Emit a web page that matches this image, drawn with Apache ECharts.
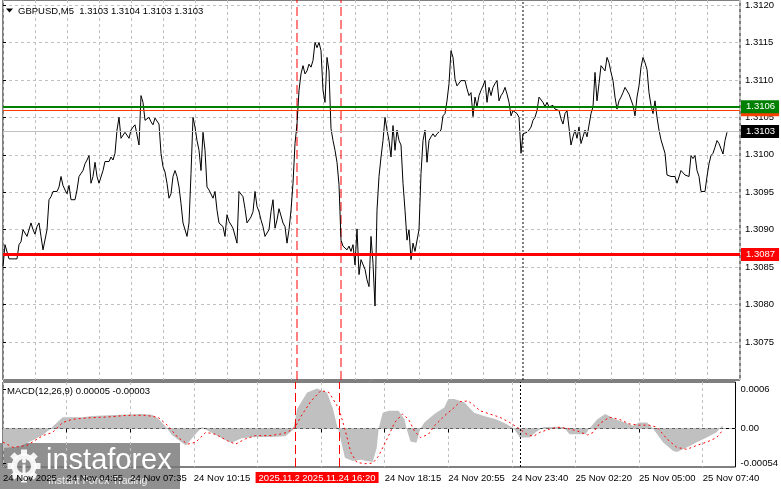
<!DOCTYPE html>
<html><head><meta charset="utf-8">
<script src="https://cdn.jsdelivr.net/npm/echarts@6/dist/echarts.min.js"></script>
<style>html,body{margin:0;padding:0;background:#fff;overflow:hidden}#c{width:781px;height:489px}</style>
</head><body><div id="c"></div>
<script>
// ---- data (M5 bars, index 0 = 24 Nov 02:15) ----
const closePrices = [
1.30851,1.30880,1.30880,1.30861,1.30861,1.30861,1.30861,1.30861,1.30880,1.30884,
1.30900,1.30901,1.30891,1.30891,1.30909,1.30900,1.30894,1.30904,1.30909,1.30891,
1.30873,1.30871,1.30900,1.30940,1.30944,1.30951,1.30951,1.30951,1.30957,1.30971,
1.30959,1.30953,1.30948,1.30959,1.30940,1.30940,1.30940,1.30953,1.30971,1.30973,
1.30979,1.30988,1.30993,1.30999,1.30962,1.30971,1.30990,1.30971,1.30962,1.30964,
1.30979,1.30991,1.30991,1.30991,1.30997,1.30993,1.31002,1.31033,1.31050,1.31022,
1.31024,1.31030,1.31028,1.31022,1.31033,1.31037,1.31040,1.31040,1.31013,1.31079,
1.31070,1.31046,1.31048,1.31050,1.31044,1.31040,1.31049,1.31049,1.31041,1.31002,
1.30984,1.30977,1.30962,1.30942,1.30948,1.30971,1.30979,1.30971,1.30957,1.30935,
1.30909,1.30900,1.30891,1.30909,1.30975,1.31050,1.31037,1.31019,1.31006,1.30979,
1.31030,1.31006,1.30957,1.30953,1.30953,1.30942,1.30951,1.30926,1.30909,1.30909,
1.30904,1.30891,1.30920,1.30911,1.30909,1.30902,1.30900,1.30882,1.30951,1.30951,
1.30944,1.30928,1.30909,1.30909,1.30917,1.30924,1.30951,1.30931,1.30924,1.30913,
1.30904,1.30891,1.30891,1.30900,1.30924,1.30940,1.30902,1.30913,1.30928,1.30928,
1.30909,1.30904,1.30882,1.30900,1.30926,1.30962,1.31015,1.31041,1.31086,1.31108,
1.31119,1.31108,1.31112,1.31121,1.31117,1.31126,1.31150,1.31143,1.31150,1.31139,
1.31086,1.31070,1.31130,1.31112,1.31035,1.31019,1.31006,1.30990,1.30960,1.30886,
1.30878,1.30880,1.30873,1.30878,1.30871,1.30880,1.30853,1.30901,1.30840,1.30860,
1.30860,1.30847,1.30833,1.30824,1.30891,1.30855,1.30798,1.30926,1.30971,1.30997,
1.31019,1.31050,1.31033,1.31019,1.30997,1.31039,1.31006,1.31033,1.31019,1.31013,
1.30962,1.30926,1.30886,1.30900,1.30860,1.30882,1.30871,1.30871,1.30900,1.30975,
1.31019,1.31033,1.30990,1.31019,1.31024,1.31028,1.31024,1.31028,1.31030,1.31033,
1.31052,1.31055,1.31072,1.31095,1.31139,1.31130,1.31101,1.31092,1.31091,1.31099,
1.31099,1.31099,1.31088,1.31079,1.31083,1.31051,1.31077,1.31064,1.31079,1.31086,
1.31092,1.31099,1.31070,1.31090,1.31079,1.31090,1.31095,1.31099,1.31072,1.31079,
1.31083,1.31090,1.31081,1.31070,1.31052,1.31059,1.31059,1.31055,1.31050,1.31002,
1.31028,1.31030,1.31030,1.31033,1.31037,1.31046,1.31050,1.31059,1.31077,1.31079,
1.31070,1.31064,1.31070,1.31064,1.31066,1.31066,1.31061,1.31059,1.31059,1.31048,
1.31041,1.31055,1.31059,1.31059,1.31013,1.31024,1.31033,1.31022,1.31037,1.31015,
1.31024,1.31033,1.31024,1.31022,1.31055,1.31064,1.31110,1.31072,1.31095,1.31119,
1.31117,1.31112,1.31130,1.31123,1.31110,1.31099,1.31077,1.31061,1.31072,1.31077,
1.31083,1.31090,1.31090,1.31081,1.31081,1.31066,1.31052,1.31077,1.31092,1.31117,
1.31130,1.31123,1.31114,1.31083,1.31066,1.31055,1.31072,1.31050,1.31033,1.31020,
1.31019,1.31002,1.30973,1.30971,1.30971,1.30971,1.30971,1.30962,1.30962,1.30979,
1.30980,1.30973,1.30971,1.30971,1.30999,1.30995,1.30999,1.30979,1.30971,1.30951,
1.30951,1.30951,1.30971,1.30988,1.30999,1.31002,1.31010,1.31019,1.31015,1.31013,
1.31001,1.31019,1.31030
];
const macdIdx = [0,8,15,20,24,30,40,45,59,70,75,78,82,85,92,96,100,104,110,115,120,127,135,142,146,148,153,158,163,166,168,169,172,176,180,183,186,188,189,191,194,199,202,203,205,208,210,212,217,222,224,227,232,237,242,248,253,257,260,265,268,272,282,285,293,295,299,303,308,313,317,320,324,327,332,337,339,344,349,354,359,362];
const macdVal = [-0.00030,-0.00028,-0.00018,-0.00010,0,0.00017,0.00017,0.00019,0.00021,0.00022,0.00021,0.00015,0.00002,-0.00010,-0.00026,-0.00012,0.00002,-0.00005,-0.00015,-0.00022,-0.00015,-0.00013,-0.00013,-0.00012,-0.00002,0.00030,0.00055,0.00061,0.00055,0.00030,0.00005,-0.00005,-0.00045,-0.00050,-0.00048,-0.00050,-0.00051,-0.00030,0,0.00024,0.00027,0.00027,0.00014,0,-0.00020,-0.00022,0,0.00009,0.00022,0.00032,0.00045,0.00045,0.00040,0.00024,0.00019,0.00014,0.00007,0,-0.00014,-0.00014,-0.00006,0.00002,0.00002,-0.00009,-0.00009,0,0.00014,0.00022,0.00014,0.00009,0.00004,0.00009,0.00009,0,-0.00021,-0.00034,-0.00036,-0.00029,-0.00021,-0.00014,-0.00006,0.00005];
const signalIdx = [0,5,12,20,25,30,35,42,49,55,62,72,78,83,88,93,97,102,107,113,117,122,127,134,139,143,147,150,155,160,164,169,172,175,178,182,186,189,194,197,201,204,207,210,214,217,222,227,230,234,237,240,245,250,255,260,264,267,270,275,279,284,289,294,297,300,305,310,315,320,325,329,334,339,344,349,354,359,362];
const signalVal = [-0.00021,-0.00029,-0.00026,-0.00011,-0.00006,0.00009,0.00014,0.00016,0.00017,0.00018,0.00020,0.00020,0.00017,0.00004,-0.00014,-0.00024,-0.00021,-0.00006,-0.00009,-0.00019,-0.00024,-0.00016,-0.00011,-0.00011,-0.00009,-0.00006,0.00002,0.00019,0.00042,0.00058,0.00055,0.00030,-0.00001,-0.00037,-0.00052,-0.00054,-0.00053,-0.00042,-0.00011,0.00009,0.00022,0.00014,-0.00004,-0.00014,-0.00009,0.00004,0.00019,0.00032,0.00041,0.00042,0.00035,0.00027,0.00022,0.00017,0.00009,-0.00001,-0.00010,-0.00012,-0.00006,-0.00001,0.00002,0,-0.00004,-0.00010,-0.00006,0.00007,0.00017,0.00014,0.00007,0.00005,0.00005,0.00002,-0.00016,-0.00029,-0.00032,-0.00026,-0.00021,-0.00014,-0.00003];
const timeTickIdx = [0,32,64,96,128,160,192,224,256,288,320,352];
const timeTickLabels = ['24 Nov 2025','24 Nov 04:55','24 Nov 07:35','24 Nov 10:15','24 Nov 12:55','24 Nov 15:35','24 Nov 18:15','24 Nov 20:55','24 Nov 23:40','25 Nov 02:20','25 Nov 05:00','25 Nov 07:40'];
const priceAxisMin = 1.3075, priceAxisMax = 1.3120, priceAxisStep = 0.0005;
const macdTickValues = [0.0006, 0, -0.00054];
const macdTickLabels = ['0.0006', '0.00', '-0.00054'];
const levelValues = [1.31060, 1.31064, 1.31031, 1.30867];
const levelLabels = ['1.3106', '1.3106', '1.3103', '1.3087'];
const vlineIdx = [147, 169];
const vlineLabels = ['2025.11.24 14:30', '2025.11.24 16:20'];
const daySepIdx = 260;
const titleText = 'GBPUSD,M5  1.3103 1.3104 1.3103 1.3103';
const macdTitle = 'MACD(12,26,9) 0.00005 -0.00003';

// ---- styles ----
const FONT = 'Liberation Sans';
const FS = 9.5;
const GRID_L = 3, GRID_W = 737;
const X_MAX = 368.5;
const levelColors = ['#ff4000', '#008000', '#c0c0c0', '#ff0000'];
const levelWidths = [1, 2, 1, 3];
const levelBoxColors = ['#ff4000', '#008000', '#000000', '#ff0000'];

const chart = echarts.init(document.getElementById('c'), null, {renderer: 'canvas'});
const priceData = closePrices.map((v, i) => [i, v]);
const macdData = macdIdx.map((x, k) => [x, macdVal[k]]);
const signalData = signalIdx.map((x, k) => [x, signalVal[k]]);

const gridLine = {show: true, lineStyle: {color: '#c0c0c0', type: [3, 3], width: 1}};
function baseX(grid, extra) {
  return Object.assign({type: 'value', gridIndex: grid, min: 0, max: X_MAX, interval: 16,
    axisLine: {show: false}, axisTick: {show: false}, axisLabel: {show: false}, splitLine: {show: false}}, extra || {});
}

const vSeries = [];
vlineIdx.forEach(ix => vSeries.push({type: 'line', xAxisIndex: 0, yAxisIndex: 0, data: [[ix, 0], [ix, 1]],
  symbol: 'none', silent: true, lineStyle: {color: '#ff0000', width: 1, type: [9, 4]}, z: 3}));
vSeries.push({type: 'line', xAxisIndex: 0, yAxisIndex: 0, data: [[daySepIdx, 0], [daySepIdx, 1]],
  symbol: 'none', silent: true, lineStyle: {color: '#000', width: 1, type: [2, 2]}, z: 3});

const levelMarks = levelValues.map((v, k) => ({
  yAxis: v,
  lineStyle: {color: levelColors[k], width: levelWidths[k], type: 'solid'},
  label: {show: true, position: 'end', distance: 1, formatter: levelLabels[k], color: '#fff',
    backgroundColor: levelBoxColors[k], padding: [2, 4, 1, 5], fontFamily: FONT, fontSize: FS}
}));

const macdMarks = [
  {xAxis: daySepIdx, lineStyle: {color: '#000', type: [2, 2], width: 1}, label: {show: false}}
].concat(vlineIdx.map((ix, k) => ({
  xAxis: ix, lineStyle: {color: '#ff0000', type: [9, 4], width: 1},
  label: {show: true, position: 'start', distance: 5, formatter: vlineLabels[k], color: '#fff',
    backgroundColor: '#ff0000', padding: [1, 3, 0, 3], fontFamily: FONT, fontSize: FS}
})));

const gear = [];
for (let k = 0; k < 8; k++) {
  gear.push({type: 'rect', x: 24, y: 466, rotation: k * Math.PI / 4,
    shape: {x: -3, y: -16.5, width: 6, height: 6}, style: {fill: 'rgba(255,255,255,0.9)'}});
}

const option = {
  animation: false,
  backgroundColor: '#fff',
  textStyle: {fontFamily: FONT},
  grid: [
    {left: GRID_L, top: 0, width: GRID_W, height: 380, show: true, borderColor: '#000', borderWidth: 1, backgroundColor: 'transparent'},
    {left: GRID_L, top: 4.5, width: GRID_W, height: 337.5, show: false},
    {left: GRID_L, top: 382, width: GRID_W, height: 85, show: true, borderColor: '#000', borderWidth: 1, backgroundColor: 'transparent'}
  ],
  xAxis: [
    baseX(0, {splitLine: gridLine}),
    baseX(1),
    baseX(2, {
      splitLine: gridLine,
      axisLine: {show: true, lineStyle: {color: '#000'}},
      axisTick: {show: true, customValues: timeTickIdx, length: 4, lineStyle: {color: '#000'}},
      axisLabel: {show: true, customValues: timeTickIdx, align: 'left', margin: 6, color: '#000',
        fontFamily: FONT, fontSize: FS,
        formatter: v => timeTickLabels[timeTickIdx.indexOf(v)] || ''}
    })
  ],
  yAxis: [
    {type: 'value', gridIndex: 0, min: 0, max: 1, show: false},
    {type: 'value', gridIndex: 1, position: 'right', min: priceAxisMin, max: priceAxisMax, interval: priceAxisStep,
      axisLine: {show: false}, splitLine: gridLine,
      axisTick: {show: true, length: 3, lineStyle: {color: '#000'}},
      axisLabel: {color: '#000', fontFamily: FONT, fontSize: FS, margin: 5, formatter: v => v.toFixed(4)}},
    {type: 'value', gridIndex: 2, position: 'right', min: -0.00059, max: 0.00071,
      axisLine: {show: false}, splitLine: {show: false},
      axisTick: {show: true, length: 3, customValues: macdTickValues, lineStyle: {color: '#000'}},
      axisLabel: {color: '#000', fontFamily: FONT, fontSize: FS, margin: 5, customValues: macdTickValues,
        formatter: v => { const k = macdTickValues.findIndex(t => Math.abs(t - v) < 1e-9); return k >= 0 ? macdTickLabels[k] : ''; }}}
  ],
  series: vSeries.concat([
    {type: 'line', name: 'GBPUSD', xAxisIndex: 1, yAxisIndex: 1, data: priceData, symbol: 'none',
      lineStyle: {color: '#000', width: 1}, z: 4,
      markLine: {silent: true, symbol: ['none', 'none'], animation: false, precision: 6, data: levelMarks}},
    {type: 'line', name: 'MACD', xAxisIndex: 2, yAxisIndex: 2, data: macdData, symbol: 'none',
      lineStyle: {width: 0, color: '#c0c0c0'}, areaStyle: {color: '#c0c0c0', opacity: 1, origin: 0}, z: 2,
      markLine: {silent: true, symbol: ['none', 'none'], animation: false, precision: 6,
        data: [{yAxis: 0, lineStyle: {color: '#c0c0c0', type: [3, 3], width: 1}, label: {show: false}}].concat(macdMarks)}},
    {type: 'line', name: 'Signal', xAxisIndex: 2, yAxisIndex: 2, data: signalData, symbol: 'none',
      lineStyle: {color: '#ff0000', width: 1, type: [2, 3]}, z: 5}
  ]),
  graphic: [
    {type: 'polygon', shape: {points: [[6, 8.5], [13, 8.5], [9.5, 12.5]]}, style: {fill: '#000'}, z: 10},
    {type: 'text', x: 18, y: 11, style: {text: titleText, fill: '#000', font: FS + 'px "' + FONT + '"', textVerticalAlign: 'middle'}, z: 10},
    {type: 'text', x: 7, y: 391.5, style: {text: macdTitle, fill: '#000', font: FS + 'px "' + FONT + '"', textVerticalAlign: 'middle'}, z: 10},
    {type: 'group', z: 100, children: [
      {type: 'rect', shape: {x: 0, y: 443, width: 180, height: 46}, style: {fill: 'rgba(120,120,120,0.82)'}},
      {type: 'ring', shape: {cx: 24, cy: 466, r: 12.5, r0: 7}, style: {fill: 'rgba(255,255,255,0.9)'}},
      {type: 'circle', shape: {cx: 24, cy: 461, r: 2.2}, style: {fill: 'rgba(255,255,255,0.9)'}},
      {type: 'rect', shape: {x: 22.5, y: 464.5, width: 3, height: 9}, style: {fill: 'rgba(255,255,255,0.9)'}},
      {type: 'text', x: 46, y: 461, style: {text: 'instaforex', fill: '#fff', font: '29px "Liberation Sans"', textVerticalAlign: 'middle'}},
      {type: 'text', x: 48, y: 481, style: {text: 'Instant Forex Trading', fill: 'rgba(255,255,255,0.85)', font: '10.5px "Liberation Sans"', textVerticalAlign: 'middle'}}
    ].concat(gear)}
  ]
};
chart.setOption(option);
</script>
</body></html>
